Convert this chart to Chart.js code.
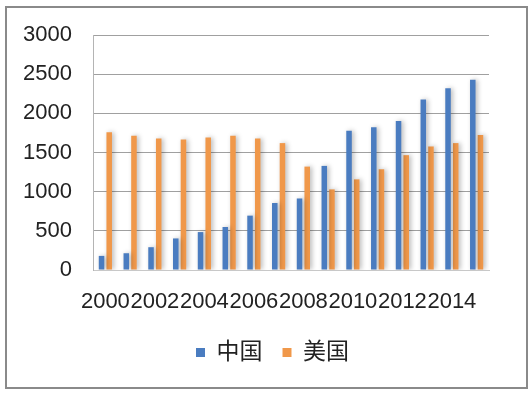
<!DOCTYPE html>
<html>
<head>
<meta charset="utf-8">
<script src="https://cdn.jsdelivr.net/npm/chart.js@4/dist/chart.umd.min.js"></script>
<style>
  html, body { margin: 0; padding: 0; background: #ffffff; }
  #wrap { position: relative; width: 531px; height: 398px; }
  #frame { position: absolute; left: 5px; top: 6px; width: 519px; height: 379px; border: 2px solid #8a8a8a; }
  canvas { position: absolute; left: 0; top: 0; }
</style>
</head>
<body>
<div id="wrap">
  <div id="frame"></div>
  <canvas id="c" width="531" height="398"></canvas>
</div>
<script>
const years = ['2000','2001','2002','2003','2004','2005','2006','2007','2008','2009','2010','2011','2012','2013','2014','2015'];
const seriesNames = ['中国', '美国'];
const chinaValues = [180, 214, 291, 403, 484, 549, 694, 855, 913, 1329, 1779, 1821, 1903, 2177, 2319, 2430];
const usaValues = [1757, 1714, 1680, 1667, 1693, 1714, 1680, 1620, 1320, 1029, 1157, 1286, 1466, 1577, 1620, 1723];
const yTicks = [0, 500, 1000, 1500, 2000, 2500, 3000];

const FONT = "'Liberation Sans', 'Noto Sans CJK SC', sans-serif";

const shadowPlugin = {
  id: 'barShadow',
  beforeDatasetsDraw(chart) {
    const ctx = chart.ctx;
    ctx.save();
    ctx.shadowColor = 'rgba(0,0,0,0.28)';
    ctx.shadowBlur = 5;
    ctx.shadowOffsetX = 2;
    ctx.shadowOffsetY = 0;
  },
  afterDatasetsDraw(chart) {
    chart.ctx.restore();
  }
};

new Chart(document.getElementById('c'), {
  type: 'bar',
  data: {
    labels: years,
    datasets: [
      { label: seriesNames[0], data: chinaValues, backgroundColor: '#4a7cc0', borderWidth: 0,
        categoryPercentage: 0.62, barPercentage: 0.72 },
      { label: seriesNames[1], data: usaValues, backgroundColor: '#f0984a', borderWidth: 0,
        categoryPercentage: 0.62, barPercentage: 0.72 }
    ]
  },
  options: {
    responsive: false,
    animation: false,
    devicePixelRatio: 1,
    layout: { padding: { left: 14, right: 0, top: 35, bottom: 24 } },
    plugins: {
      tooltip: { enabled: false },
      legend: {
        position: 'bottom',
        labels: {
          boxWidth: 9,
          boxHeight: 9,
          padding: 20,
          color: '#222222',
          font: { family: FONT, size: 23 }
        }
      }
    },
    scales: {
      x: {
        grid: { display: false, drawTicks: false },
        border: { display: true, color: '#c8c8c8', width: 1 },
        ticks: {
          autoSkip: false,
          maxRotation: 0,
          minRotation: 0,
          padding: 19,
          color: '#222222',
          font: { family: FONT, size: 22 },
          callback: function(value, index) { return index % 2 === 0 ? years[index] : ''; }
        },
        afterFit: function(scale) { scale.height = 51; }
      },
      y: {
        min: 0,
        max: 3000,
        afterBuildTicks: function(scale) { scale.ticks = yTicks.map(v => ({ value: v })); },
        grid: { color: '#a0a0a0', lineWidth: 1, drawTicks: false },
        border: { display: true, color: '#b4b4b4', width: 1 },
        ticks: {
          padding: 21,
          color: '#222222',
          font: { family: FONT, size: 22 },
          callback: function(value) { return String(value); }
        },
        afterFit: function(scale) { scale.width = 79; }
      },
      spacer: {
        type: 'linear',
        position: 'right',
        display: true,
        min: 0,
        max: 3000,
        grid: { display: false, drawTicks: false },
        border: { display: false },
        ticks: { display: false },
        afterFit: function(scale) { scale.width = 42; }
      }
    }
  },
  plugins: [shadowPlugin]
});
</script>
</body>
</html>
